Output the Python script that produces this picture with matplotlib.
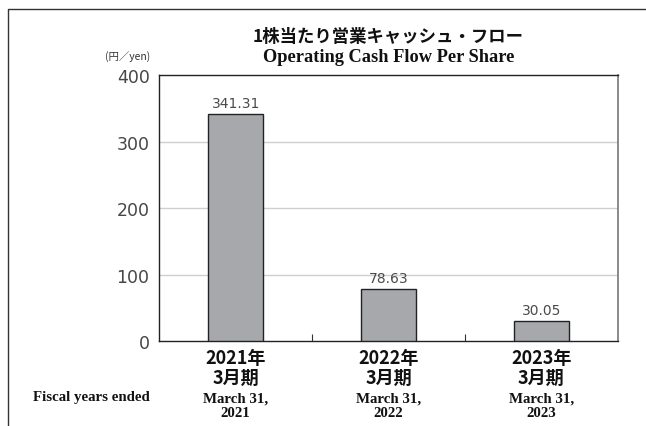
import matplotlib
matplotlib.use("Agg")
import matplotlib.pyplot as plt
from matplotlib.lines import Line2D
from matplotlib.transforms import blended_transform_factory

years = ["2021", "2022", "2023"]
values = [341.31, 78.63, 30.05]
value_labels = ["341.31", "78.63", "30.05"]
jp_year_labels = ["2021年", "2022年", "2023年"]
jp_period_labels = ["3月期", "3月期", "3月期"]
en_date_labels = ["March 31,", "March 31,", "March 31,"]
yticks = [0, 100, 200, 300, 400]

JP = ["Noto Sans CJK JP", "DejaVu Sans"]
SERIF = ["Liberation Serif", "DejaVu Serif"]
NUM = ["DejaVu Sans"]

H = 427.0
W = 646.0

fig = plt.figure(figsize=(6.46, 4.27), dpi=100)
ax = fig.add_axes([159.3 / W, 84.7 / H, 458.4 / W, 266.3 / H])

x = list(range(len(years)))
ax.bar(x, values, width=0.36, color="#a7a8ab", edgecolor="#222222", linewidth=1.0, zorder=3)

for xi, v, lab in zip(x, values, value_labels):
    ax.text(xi, v + 6, lab, ha="center", va="bottom", fontsize=10, color="#4a4a4a",
            family=NUM)

ax.set_xlim(-0.5, 2.5)
ax.set_ylim(0, 400)
ax.set_yticks(yticks)
ax.set_yticklabels([str(t) for t in yticks], family=NUM, fontsize=12.5, color="#474747")
ax.tick_params(axis="y", length=0, pad=7)
for t in yticks[1:-1]:
    ax.axhline(t, color="#cfcfcf", linewidth=1.0, zorder=1)

ax.set_xticks(x)
ax.set_xticklabels([""] * len(x))
ax.tick_params(axis="x", length=0)
ax.set_xticks([0.5, 1.5], minor=True)
ax.tick_params(axis="x", which="minor", direction="in", length=5, width=0.8, color="#333333")

for side in ["left", "bottom", "top"]:
    ax.spines[side].set_color("#222222")
    ax.spines[side].set_linewidth(1.0)
ax.spines["right"].set_color("#777777")
ax.spines["right"].set_linewidth(1.2)

trans = blended_transform_factory(ax.transData, fig.transFigure)
for xi, y_lab, p_lab, d_lab, yr in zip(x, jp_year_labels, jp_period_labels, en_date_labels, years):
    ax.text(xi, 1 - 359 / H, y_lab, transform=trans, ha="center", va="center",
            family=JP, fontsize=13, fontweight="bold", color="#111111")
    ax.text(xi, 1 - 378 / H, p_lab, transform=trans, ha="center", va="center",
            family=JP, fontsize=13, fontweight="bold", color="#111111")
    ax.text(xi, 1 - 399 / H, d_lab, transform=trans, ha="center", va="center",
            family=SERIF, fontsize=10.7, fontweight="bold", color="#111111")
    ax.text(xi, 1 - 414 / H, yr, transform=trans, ha="center", va="center",
            family=SERIF, fontsize=10.7, fontweight="bold", color="#111111")

fig.text(91.5 / W, 1 - 398 / H, "Fiscal years ended", ha="center", va="center",
         family=SERIF, fontsize=10.7, fontweight="bold", color="#111111")

fig.text(388.5 / W, 1 - 37.5 / H, "1株当たり営業キャッシュ・フロー", ha="center", va="center",
         family=JP, fontsize=12.5, fontweight="bold", color="#111111")
fig.text(388.5 / W, 1 - 57 / H, "Operating Cash Flow Per Share", ha="center", va="center",
         family=SERIF, fontsize=13.2, fontweight="bold", color="#111111")
fig.text(128 / W, 1 - 57 / H, "(円／yen)", ha="center", va="center",
         family=JP, fontsize=7.5, color="#333333")

fig.add_artist(Line2D([7.5 / W, 7.5 / W, 1.0], [0.0, 1 - 10 / H, 1 - 10 / H],
                      transform=fig.transFigure, color="#333333", linewidth=1.0))

fig.savefig("out.png", dpi=100)
